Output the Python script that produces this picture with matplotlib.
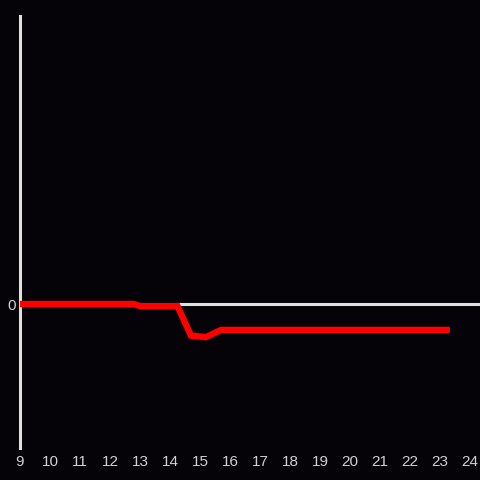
import numpy as np
import matplotlib.pyplot as plt

plt.rcParams['font.family'] = ['Liberation Sans', 'DejaVu Sans']

x_vals = [9.0, 12.8, 13.0, 14.25, 14.7, 15.2, 15.7, 23.33]
y_vals = [0.0, 0.0, -0.015, -0.015, -0.22, -0.23, -0.18, -0.18]
x_ticks = list(range(9, 25))

bg = '#050307'
fig = plt.figure(figsize=(4.8, 4.8), dpi=100, facecolor=bg)
ax = fig.add_axes([20/480, 32/480, 460/480, 432/480], facecolor=bg)

ax.axhline(0, color='#e0e0e0', lw=2.2, zorder=1)
ax.plot(x_vals, y_vals, color='#ff0000', lw=4.6, solid_capstyle='butt',
        solid_joinstyle='miter', zorder=3)

ax.set_xlim(9, 9 + 460/30)
ax.set_ylim(-1, 2)
ax.set_xticks(x_ticks)
ax.set_yticks([0])
ax.tick_params(length=0, colors='#d0d0d0', labelsize=11, pad=5)
ax.tick_params(axis='y', pad=3)

for s in ['top', 'right', 'bottom']:
    ax.spines[s].set_visible(False)
ax.spines['left'].set_color('#e0e0e0')
ax.spines['left'].set_linewidth(2.2)

fig.savefig('out.png', dpi=100, facecolor=bg)
